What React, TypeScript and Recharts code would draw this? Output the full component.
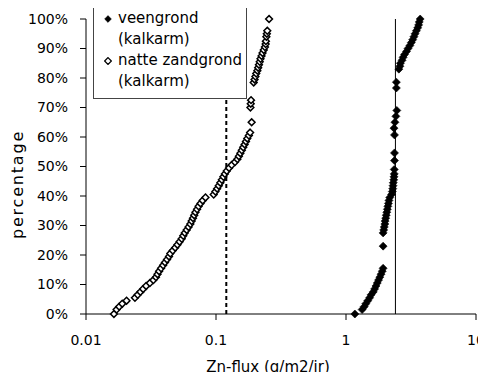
import React from "react";
import {
  ScatterChart,
  Scatter,
  XAxis,
  YAxis,
  ReferenceLine,
  Label,
} from "recharts";

// veengrond (kalkarm) – filled diamonds
const veenPct = [
  0, 1.5, 2.5, 3.5, 4.5, 5.5, 6.5, 7.5, 8.5, 9.5, 10.5, 11.5, 12.5, 13.5, 14.5, 15.5,
  23, 27.5, 28.5, 29.5, 30.5, 31.5, 32.5, 33.5, 34.5, 35.5, 36.5, 37.5, 38.5, 39.5,
  40.5, 41.5, 42.5, 43.5, 44.5, 45.5, 46.5, 47.5, 49, 52, 54.6, 60.7, 63, 65, 67, 69,
  76.6, 78.6, 83, 84, 85, 86, 87, 88, 89, 90, 91, 92, 93, 94, 95, 96, 97, 98, 99, 100,
];
const veenFlux = [
  1.17, 1.33, 1.38, 1.42, 1.47, 1.52, 1.56, 1.62, 1.66, 1.7, 1.74, 1.78, 1.82, 1.86, 1.9, 1.93,
  1.93, 1.93, 1.95, 1.97, 1.99, 2.0, 2.02, 2.04, 2.06, 2.08, 2.1, 2.12, 2.14, 2.17,
  2.24, 2.27, 2.29, 2.3, 2.31, 2.33, 2.34, 2.35, 2.35, 2.36, 2.36, 2.36, 2.34, 2.38, 2.42, 2.46,
  2.44, 2.44, 2.55, 2.6, 2.62, 2.7, 2.75, 2.82, 2.92, 3.0, 3.1, 3.18, 3.26, 3.33, 3.4, 3.48, 3.56, 3.62, 3.66, 3.72,
];

// natte zandgrond (kalkarm) – open diamonds
const zandPct = [
  0, 1.5, 2.5, 3.5, 4.5, 5.5, 6.5, 7.5, 8.5, 9.5, 10.5, 11.5, 12.5, 13.5, 14.5, 15.5,
  16.5, 17.5, 18.5, 19.5, 20.5, 21.5, 22.5, 23.5, 24.5, 25.5, 26.5, 27.5, 28.5, 29.5,
  30.5, 31.5, 32.5, 33.5, 34.5, 35.5, 36.5, 37.5, 38.5, 39.5, 40.5, 41.5, 42.5, 43.5,
  44.5, 45.5, 46.5, 47.5, 48.5, 49.5, 50.5, 51.5, 52.5, 53.5, 54.5, 55.5, 56.5, 57.5,
  58.5, 59.5, 60.5, 61.5, 65, 70, 71.3, 72.5, 78.5, 79.5, 80.5, 81.5, 82.5, 83.5, 84.5,
  85.5, 86.5, 87.5, 88.5, 89.5, 90.5, 91.5, 92.5, 94, 95, 96, 100,
];
const zandFlux = [
  0.0164, 0.0172, 0.018, 0.019, 0.0205, 0.0238, 0.025, 0.0262, 0.0275, 0.029, 0.031, 0.033, 0.0345, 0.0355, 0.0365, 0.0378,
  0.0392, 0.0405, 0.042, 0.0435, 0.0445, 0.0465, 0.0485, 0.0505, 0.0525, 0.0545, 0.056, 0.0575, 0.0595, 0.0615,
  0.0635, 0.065, 0.0665, 0.068, 0.0695, 0.0715, 0.0735, 0.076, 0.079, 0.083, 0.096, 0.099, 0.102, 0.105,
  0.108, 0.111, 0.114, 0.117, 0.121, 0.126, 0.132, 0.14, 0.146, 0.15, 0.154, 0.158, 0.162, 0.166,
  0.17, 0.174, 0.179, 0.183, 0.188, 0.184, 0.185, 0.186, 0.195, 0.198, 0.201, 0.204, 0.208, 0.211, 0.214,
  0.217, 0.22, 0.224, 0.228, 0.233, 0.238, 0.241, 0.242, 0.244, 0.246, 0.248, 0.256,
];

const xTicks = [0.01, 0.1, 1, 10];
const yTicks = [0, 10, 20, 30, 40, 50, 60, 70, 80, 90, 100];
const veenNorm = 2.4;
const zandNorm = 0.12;
const legendItems = ["veengrond", "natte zandgrond"];
const legendSub = "(kalkarm)";

const veenData = veenPct.map((p, i) => ({ x: veenFlux[i], y: p }));
const zandData = zandPct.map((p, i) => ({ x: zandFlux[i], y: p }));

const FONT = "'DejaVu Sans', sans-serif";

const FilledDiamond = (props: any) => {
  const { cx, cy } = props;
  const r = 4;
  return (
    <path
      d={`M${cx},${cy - r}L${cx + r},${cy}L${cx},${cy + r}L${cx - r},${cy}Z`}
      fill="#000"
      stroke="#000"
      strokeWidth={0.6}
    />
  );
};

const OpenDiamond = (props: any) => {
  const { cx, cy } = props;
  const r = 3.4;
  return (
    <path
      d={`M${cx},${cy - r}L${cx + r},${cy}L${cx},${cy + r}L${cx - r},${cy}Z`}
      fill="#fff"
      stroke="#000"
      strokeWidth={1.5}
    />
  );
};

const YLabel = (props: any) => {
  const { viewBox } = props;
  const x = viewBox.x + 9;
  const y = viewBox.y + viewBox.height / 2 + 18;
  return (
    <text
      x={x}
      y={y}
      transform={`rotate(-90 ${x} ${y})`}
      textAnchor="middle"
      dominantBaseline="central"
      fontFamily={FONT}
      fontSize={16}
      letterSpacing={1.8}
      fill="#000"
    >
      percentage
    </text>
  );
};

const XLabel = (props: any) => {
  const { viewBox } = props;
  const x = viewBox.x + viewBox.width / 2 - 13;
  const y = viewBox.y + viewBox.height;
  return (
    <text x={x} y={y} textAnchor="middle" fontFamily={FONT} fontSize={15} fill="#000">
      Zn-flux (g/m2/jr)
    </text>
  );
};

const LegendMarker = ({ filled }: { filled: boolean }) => (
  <svg width={8} height={8} style={{ position: "absolute", left: 10, top: 7 }}>
    <path
      d="M4,0.6L7.4,4L4,7.4L0.6,4Z"
      fill={filled ? "#000" : "#fff"}
      stroke="#000"
      strokeWidth={filled ? 0.5 : 1.3}
    />
  </svg>
);

export default function App() {
  return (
    <div style={{ position: "relative", width: 478, height: 372, marginBottom: -8 }}>
      <ScatterChart
        width={478}
        height={372}
        margin={{ top: 11, right: 10, bottom: 8, left: 0 }}
      >
        <XAxis
          type="number"
          dataKey="x"
          scale="log"
          domain={[0.01, 10]}
          ticks={xTicks}
          allowDataOverflow
          height={58}
          tickSize={6}
          tickMargin={15}
          stroke="#000"
          tick={{ fill: "#000", fontSize: 14, fontFamily: FONT }}
          tickFormatter={(v: number) => String(v)}
        >
          <Label content={<XLabel />} />
        </XAxis>
        <YAxis
          type="number"
          dataKey="y"
          domain={[0, 100]}
          ticks={yTicks}
          width={78}
          tickSize={6}
          tickMargin={12}
          stroke="#000"
          tick={{ fill: "#000", fontSize: 14, fontFamily: FONT }}
          tickFormatter={(v: number) => `${v}%`}
        >
          <Label content={<YLabel />} />
        </YAxis>
        <ReferenceLine x={zandNorm} stroke="#000" strokeWidth={2} strokeDasharray="4 3" />
        <ReferenceLine x={veenNorm} stroke="#000" strokeWidth={1} />
        <Scatter data={zandData} shape={<OpenDiamond />} isAnimationActive={false} />
        <Scatter data={veenData} shape={<FilledDiamond />} isAnimationActive={false} />
      </ScatterChart>
      <div
        style={{
          position: "absolute",
          left: 85,
          top: -2,
          width: 152,
          height: 90,
          background: "#fff",
          border: "1px solid #444",
          fontFamily: FONT,
          fontSize: 15,
          lineHeight: "21px",
          color: "#000",
          paddingTop: 1,
          boxSizing: "content-box",
        }}
      >
        {legendItems.map((name, i) => (
          <div key={name} style={{ position: "relative", paddingLeft: 24 }}>
            <LegendMarker filled={i === 0} />
            <div>{name}</div>
            <div>{legendSub}</div>
          </div>
        ))}
      </div>
    </div>
  );
}
